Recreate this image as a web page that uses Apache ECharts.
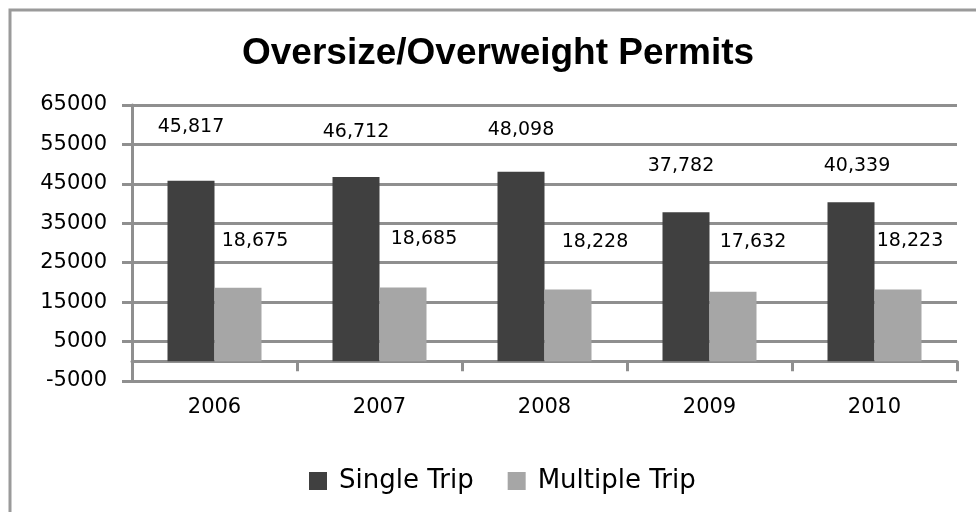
<!DOCTYPE html>
<html>
<head>
<meta charset="utf-8">
<script src="https://cdn.jsdelivr.net/npm/echarts@6/dist/echarts.min.js"></script>
<style>
html,body{margin:0;padding:0;background:#fff;}
#chart{width:976px;height:512px;}
</style>
</head>
<body>
<div id="chart"></div>
<script>
const titleText = 'Oversize/Overweight Permits';
const years = ['2006', '2007', '2008', '2009', '2010'];
const seriesNames = ['Single Trip', 'Multiple Trip'];
const singleTrip = [45817, 46712, 48098, 37782, 40339];
const multipleTrip = [18675, 18685, 18228, 17632, 18223];
const yMin = -5000, yMax = 65000, yStep = 10000;

// label placement relative to top centre of each bar: [dx, dy] in pixels
const singleLabelShift = [[0, -54], [0, -45], [0, -42], [-5, -46], [6, -36]];
const multipleLabelShift = [[17, -47], [21, -49], [27, -47], [20, -50], [12, -48]];

const lineColor = '#8f8f8f';
const fmt = v => Number(v).toLocaleString('en-US');

function buildData(values, shifts) {
  return values.map((v, i) => ({
    value: v,
    label: { position: ['50%', shifts[i][1]], offset: [shifts[i][0], 0] }
  }));
}

const labelBase = {
  show: true,
  align: 'center',
  verticalAlign: 'middle',
  color: '#000',
  fontFamily: 'DejaVu Sans',
  fontSize: 19,
  formatter: p => fmt(p.value)
};

const chart = echarts.init(document.getElementById('chart'), null, { renderer: 'canvas' });
chart.setOption({
  animation: false,
  backgroundColor: '#fff',
  title: {
    text: titleText,
    left: 237,
    top: 30,
    textStyle: { fontFamily: 'Liberation Sans', fontWeight: 'bold', fontSize: 37, color: '#000' }
  },
  graphic: [{
    type: 'rect',
    shape: { x: 10, y: 10, width: 1100, height: 700 },
    style: { fill: 'none', stroke: '#9a9a9a', lineWidth: 3 },
    silent: true
  }],
  legend: {
    data: seriesNames,
    left: 309,
    top: 468,
    padding: 0,
    itemWidth: 18,
    itemHeight: 18,
    itemGap: 34,
    icon: 'rect',
    textStyle: { fontFamily: 'DejaVu Sans', fontSize: 26, color: '#000', padding: [0, 0, 0, 7] }
  },
  grid: { left: 132, right: 19, top: 105, bottom: 131, containLabel: false },
  xAxis: {
    type: 'category',
    data: years,
    axisLine: { onZero: true, lineStyle: { color: lineColor, width: 3 } },
    axisTick: { show: true, alignWithLabel: false, length: 10, lineStyle: { color: lineColor, width: 3 } },
    axisLabel: { margin: 16, color: '#000', fontFamily: 'DejaVu Sans', fontSize: 21 },
    splitLine: { show: false }
  },
  yAxis: {
    type: 'value',
    min: yMin,
    max: yMax,
    interval: yStep,
    axisLine: { show: true, lineStyle: { color: lineColor, width: 3 } },
    axisTick: { show: true, length: 10, lineStyle: { color: lineColor, width: 3 } },
    axisLabel: { margin: 25, color: '#000', fontFamily: 'DejaVu Sans', fontSize: 21, formatter: v => String(v) },
    splitLine: { show: true, lineStyle: { color: lineColor, width: 3 } }
  },
  series: [
    {
      name: seriesNames[0],
      type: 'bar',
      barWidth: 47,
      barGap: '0%',
      itemStyle: { color: '#404040' },
      label: labelBase,
      data: buildData(singleTrip, singleLabelShift)
    },
    {
      name: seriesNames[1],
      type: 'bar',
      barWidth: 47,
      barGap: '0%',
      itemStyle: { color: '#a6a6a6' },
      label: labelBase,
      data: buildData(multipleTrip, multipleLabelShift)
    }
  ]
});
</script>
</body>
</html>
